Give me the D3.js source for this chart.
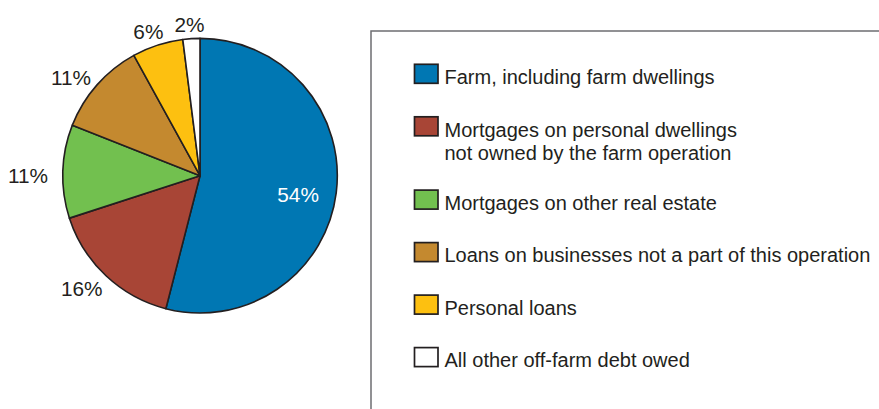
<!DOCTYPE html>
<html>
<head>
<meta charset="utf-8">
<script src="https://cdn.jsdelivr.net/npm/d3@7"></script>
<style>
  html, body { margin: 0; padding: 0; background: #fff; }
  svg { display: block; font-family: "Liberation Sans", Arial, Helvetica, sans-serif; }
</style>
</head>
<body>
<svg id="chart" width="879" height="409"></svg>
<script>
const categories = [
  ["Farm, including farm dwellings"],
  ["Mortgages on personal dwellings", "not owned by the farm operation"],
  ["Mortgages on other real estate"],
  ["Loans on businesses not a part of this operation"],
  ["Personal loans"],
  ["All other off-farm debt owed"]
];
const values = [54, 16, 11, 11, 6, 2];
const colors = ["#0077b3", "#a84536", "#72c04f", "#c4892f", "#fdc010", "#ffffff"];
const labels = values.map(v => v + "%");

const svg = d3.select("#chart");
const W = 879, H = 409;

// Pie
const cx = 200, cy = 175.7, r = 137.3;
const pie = d3.pie().sort(null).value(d => d)(values);
const arc = d3.arc().innerRadius(0).outerRadius(r);
const inArc = d3.arc().innerRadius(r * 0.44).outerRadius(r);
const g = svg.append("g").attr("transform", `translate(${cx},${cy})`);

g.selectAll("path.slice").data(pie).join("path")
  .attr("class", "slice")
  .attr("d", arc)
  .attr("fill", (d, i) => colors[i])
  .attr("stroke", "#231f20")
  .attr("stroke-width", 1.6)
  .attr("stroke-linejoin", "round");

const labelR = 152;
const fs = 20.8;
g.selectAll("text.lbl").data(pie).join("text")
  .attr("class", "lbl")
  .attr("font-size", fs)
  .attr("text-anchor", "middle")
  .attr("dy", "0.36em")
  .attr("fill", (d, i) => i === 0 ? "#ffffff" : "#231f20")
  .text((d, i) => labels[i])
  .each(function(d, i) {
    const t = d3.select(this);
    if (i === 0) {
      const c = inArc.centroid(d);
      t.attr("x", c[0]).attr("y", c[1] + 6);
    } else {
      const a = (d.startAngle + d.endAngle) / 2;
      const w = this.getComputedTextLength();
      const s = Math.sin(a);
      const x = labelR * s + s * w / 2;
      const y = -labelR * Math.cos(a) + 5 * s * s;
      t.attr("x", x).attr("y", y);
    }
  });

// Legend
const lg = svg.append("g");
lg.append("rect")
  .attr("x", 371).attr("y", 31)
  .attr("width", W).attr("height", H)
  .attr("fill", "none")
  .attr("stroke", "#6d6e71")
  .attr("stroke-width", 1.5);

const rowTop = 64.3, rowGap = 52.5, lineH = 23.3;
let yTop = rowTop;
categories.forEach((lines, i) => {
  lg.append("rect")
    .attr("x", 414.5).attr("y", yTop)
    .attr("width", 23.5).attr("height", 19)
    .attr("fill", colors[i])
    .attr("stroke", "#231f20")
    .attr("stroke-width", 1.7);
  const t = lg.append("text")
    .attr("x", 444.5)
    .attr("y", yTop + 19.8)
    .attr("font-size", 20)
    .attr("fill", "#231f20");
  lines.forEach((ln, j) => {
    t.append("tspan").attr("x", 444.5).attr("dy", j === 0 ? 0 : lineH).text(ln);
  });
  yTop += rowGap + (lines.length - 1) * (lineH - 2.5);
});
</script>
</body>
</html>
